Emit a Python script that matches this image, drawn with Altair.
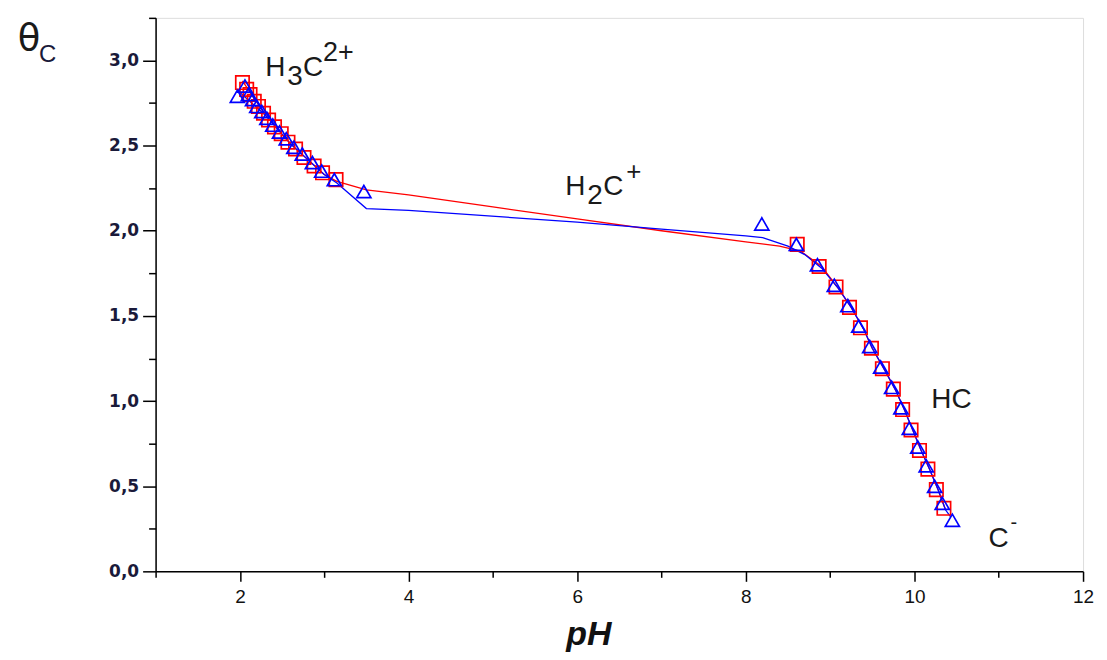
import altair as alt
import pandas as pd

# ---- data ----
sq_ph = [2.03, 2.08, 2.12, 2.17, 2.22, 2.28, 2.34, 2.41, 2.49, 2.57, 2.66, 2.76, 2.88, 2.98, 3.14,
         8.61, 8.87, 9.07, 9.23, 9.36, 9.49, 9.62, 9.75, 9.86, 9.96, 10.06, 10.16, 10.26, 10.35]
sq_th = [2.87, 2.83, 2.80, 2.76, 2.73, 2.69, 2.65, 2.61, 2.57, 2.52, 2.48, 2.43, 2.38, 2.34, 2.30,
         1.92, 1.79, 1.67, 1.55, 1.43, 1.31, 1.19, 1.07, 0.95, 0.83, 0.71, 0.60, 0.48, 0.37]

tr_ph = [1.97, 2.06, 2.10, 2.15, 2.20, 2.26, 2.32, 2.39, 2.47, 2.55, 2.64, 2.74, 2.86, 2.97, 3.12, 3.47,
         8.19, 8.60, 8.85, 9.05, 9.21, 9.34, 9.47, 9.60, 9.73, 9.84, 9.94, 10.04, 10.14, 10.24, 10.33, 10.45]
tr_th = [2.79, 2.85, 2.80, 2.77, 2.73, 2.70, 2.66, 2.62, 2.58, 2.54, 2.49, 2.45, 2.40, 2.35, 2.30, 2.23,
         2.04, 1.92, 1.80, 1.68, 1.56, 1.44, 1.32, 1.20, 1.08, 0.96, 0.84, 0.73, 0.62, 0.50, 0.40, 0.30]

red_line_ph = [2.03, 2.3, 2.6, 3.0, 3.15, 3.5, 4.0, 5.0, 6.0, 7.0, 8.0, 8.4, 8.65, 8.9, 9.1, 9.25,
               9.4, 9.5, 9.65, 9.78, 9.88, 9.98, 10.08, 10.18, 10.28, 10.37]
red_line_th = [2.88, 2.68, 2.51, 2.33, 2.29, 2.24, 2.21, 2.14, 2.07, 2.00, 1.935, 1.91, 1.88, 1.79, 1.66, 1.55,
               1.42, 1.31, 1.18, 1.06, 0.95, 0.83, 0.71, 0.60, 0.48, 0.36]

blue_line_ph = [1.98, 2.3, 2.6, 3.0, 3.15, 3.5, 4.0, 6.0, 7.0, 8.0, 8.2, 8.5, 8.7, 8.9, 9.1, 9.25,
                9.4, 9.5, 9.65, 9.78, 9.88, 9.98, 10.08, 10.18, 10.28, 10.37, 10.43]
blue_line_th = [2.82, 2.68, 2.51, 2.33, 2.28, 2.13, 2.12, 2.05, 2.01, 1.97, 1.96, 1.91, 1.86, 1.78, 1.66, 1.55,
                1.42, 1.31, 1.18, 1.06, 0.95, 0.83, 0.71, 0.60, 0.48, 0.36, 0.32]

x_ticks = list(range(1, 13))
y_ticks = [i * 0.25 for i in range(0, 14)]

RED = "#ff0000"
BLUE = "#0000ff"
FONT = "Liberation Sans"

x_enc = alt.X("pH:Q",
              scale=alt.Scale(domain=[1, 12], nice=False, zero=False),
              axis=alt.Axis(values=x_ticks, grid=False, domainColor="black", domainWidth=1.5,
                            tickColor="black", tickWidth=1.5, labelFlush=False,
                            tickSize={"condition": {"test": "datum.value % 2 == 0", "value": 10}, "value": 6},
                            labelExpr="datum.value % 2 == 0 ? datum.label : ''",
                            labelFont=FONT, labelFontSize=19, labelColor="#111", labelPadding=6,
                            title="pH", titleFont=FONT, titleFontSize=34, titleFontWeight="bold",
                            titleFontStyle="italic", titleX=434, titleY=73, titleAlign="center",
                            titleBaseline="alphabetic", titleColor="#111"))

y_enc = alt.Y("theta:Q",
              scale=alt.Scale(domain=[0, 3.25], nice=False, zero=True),
              axis=alt.Axis(values=y_ticks, grid=False, domainColor="black", domainWidth=1.5,
                            tickColor="black", tickWidth=1.5, labelFlush=False,
                            tickSize={"condition": {"test": "(datum.value * 2) % 1 == 0", "value": 13}, "value": 7},
                            labelExpr="(datum.value * 2) % 1 == 0 ? replace(format(datum.value, '.1f'), '.', ',') : ''",
                            labelFont="DejaVu Sans", labelFontSize=17, labelFontWeight="bold",
                            labelColor="#1a1a3a", labelPadding=4, title=None))

red_pts = pd.DataFrame({"pH": sq_ph, "theta": sq_th})
blue_pts = pd.DataFrame({"pH": tr_ph, "theta": tr_th})
red_ln = pd.DataFrame({"pH": red_line_ph, "theta": red_line_th, "o": list(range(len(red_line_ph)))})
blue_ln = pd.DataFrame({"pH": blue_line_ph, "theta": blue_line_th, "o": list(range(len(blue_line_ph)))})

red_line = alt.Chart(red_ln).mark_line(color=RED, strokeWidth=1.3).encode(x=x_enc, y=y_enc, order="o:Q")
blue_line = alt.Chart(blue_ln).mark_line(color=BLUE, strokeWidth=1.3).encode(x=x_enc, y=y_enc, order="o:Q")
squares = alt.Chart(red_pts).mark_point(shape="square", filled=False, color=RED, size=180,
                                        strokeWidth=1.7, opacity=1).encode(x=x_enc, y=y_enc)
triangles = alt.Chart(blue_pts).mark_point(shape="triangle-up", filled=False, color=BLUE, size=200,
                                           strokeWidth=1.7, opacity=1).encode(x=x_enc, y=y_enc)


def label(text, ph, th, size=28, dx=0, dy=0):
    df = pd.DataFrame({"pH": [ph], "theta": [th], "t": [text]})
    return alt.Chart(df).mark_text(align="left", baseline="alphabetic", font=FONT, fontSize=size,
                                   color="#1a1a1a", dx=dx, dy=dy).encode(x=x_enc, y=y_enc, text="t:N")


labels = [
    label("H", 2.3, 2.906), label("3", 2.3, 2.906, dx=22, dy=9), label("C", 2.3, 2.906, dx=38),
    label("2+", 2.3, 2.906, size=27, dx=58, dy=-15),
    label("H", 5.86, 2.209), label("2", 5.86, 2.209, dx=22, dy=9), label("C", 5.86, 2.209, dx=38),
    label("+", 5.86, 2.209, size=26, dx=61, dy=-15),
    label("HC", 10.2, 0.961),
    label("C", 10.88, 0.141), label("-", 10.88, 0.141, size=20, dx=22, dy=-18),
]

theta_sym = alt.Chart(pd.DataFrame({"t": ["θ"]})).mark_text(
    align="center", baseline="alphabetic", font="DejaVu Sans", fontSize=37, color="#1a1a1a"
).encode(x=alt.value(-127), y=alt.value(32), text="t:N")
theta_sub = alt.Chart(pd.DataFrame({"t": ["C"]})).mark_text(
    align="left", baseline="alphabetic", font=FONT, fontSize=24, color="#1a1a3a"
).encode(x=alt.value(-117), y=alt.value(44), text="t:N")

chart = alt.layer(red_line, blue_line, squares, triangles, *labels, theta_sym, theta_sub).properties(
    width=930, height=555,
    padding={"left": 148, "top": 9, "right": 16, "bottom": 80},
    autosize=alt.AutoSizeParams(type="none"),
).configure_view(stroke=None).configure(background="white")

chart.save("out.html", embed_options={"renderer": "svg", "actions": False})
